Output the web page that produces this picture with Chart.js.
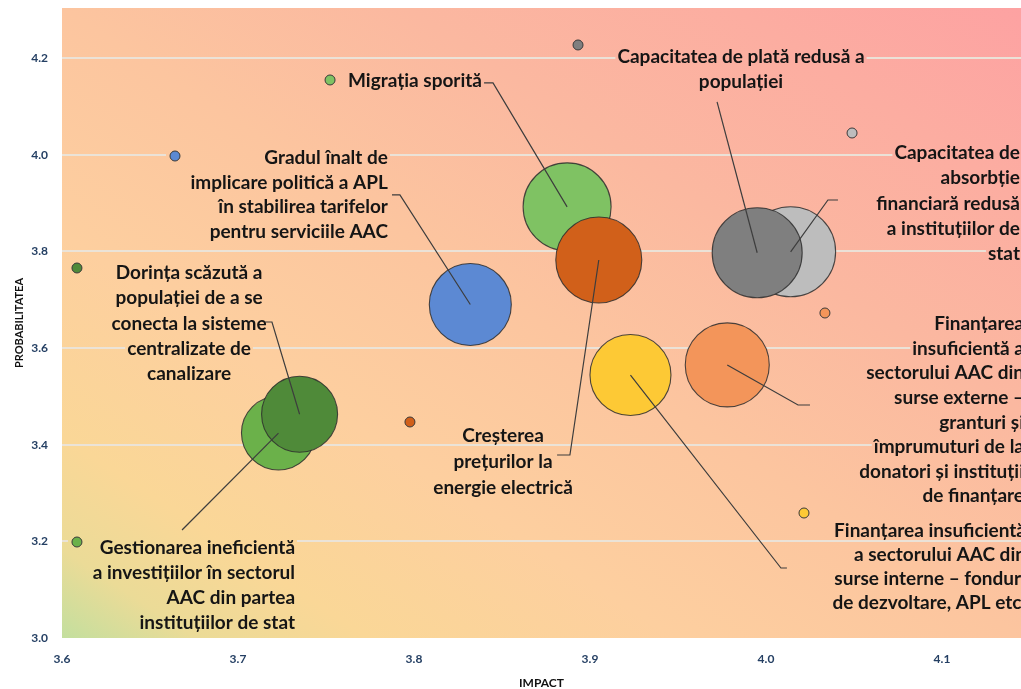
<!DOCTYPE html>
<html><head><meta charset="utf-8">
<script src="https://cdn.jsdelivr.net/npm/chart.js@4.4.0/dist/chart.umd.min.js"></script>
<style>html,body{margin:0;padding:0;background:#fff;}#wrap{width:1021px;height:689px;position:relative;overflow:hidden}</style>
</head><body><div id="wrap"><canvas id="c" width="1021" height="689"></canvas></div>
<script>
// ---- data ----
const categories = [
  "Gestionarea ineficientă a investițiilor în sectorul AAC din partea instituțiilor de stat",
  "Dorința scăzută a populației de a se conecta la sisteme centralizate de canalizare",
  "Capacitatea de absorbție financiară redusă a instituțiilor de stat",
  "Capacitatea de plată redusă a populației",
  "Migrația sporită",
  "Creșterea prețurilor la energie electrică",
  "Gradul înalt de implicare politică a APL în stabilirea tarifelor pentru serviciile AAC",
  "Finanțarea insuficientă a sectorului AAC din surse interne – fonduri de dezvoltare, APL etc.",
  "Finanțarea insuficientă a sectorului AAC din surse externe – granturi și împrumuturi de la donatori și instituții de finanțare"
];
const impact      = [3.723, 3.735, 4.014, 3.995, 3.887, 3.905, 3.832, 3.923, 3.978];
const probability = [3.424, 3.463, 3.799, 3.797, 3.892, 3.782, 3.690, 3.544, 3.565];
const bubbleSize  = [37, 38, 45, 45, 44, 43, 41, 40.5, 42];
const xTickValues = [3.6, 3.7, 3.8, 3.9, 4.0, 4.1];
const yTickValues = [3.0, 3.2, 3.4, 3.6, 3.8, 4.0, 4.2];

// ---- styles ----
const fillColors = ['#6BB14A', '#4F8A39', '#BDBDBD', '#7F7F7F', '#7FC263', '#D1601A', '#5C89D3', '#FDC935', '#F3955A'];
const LABEL_FONT = 'bold 19px Lato, "Open Sans", sans-serif';

// ---- label annotations (anchors in axis units) ----
const labelLayout = [
  {i:0, lines:["Gestionarea ineficientă","a investițiilor în sectorul","AAC din partea","instituțiilor de stat"], align:'right', x:3.7324, y:3.1883, lh:25, dot:[3.6085,3.1986], hook:[[3.6682,3.2234]]},
  {i:1, lines:["Dorința scăzută a","populației de a se","conecta la sisteme","centralizate de","canalizare"], align:'center', x:3.6722, y:3.7572, lh:25.2, dot:[3.6085,3.7655], hook:[[3.7153,3.6538],[3.7193,3.6538]]},
  {i:2, lines:["Capacitatea de","absorbție","financiară redusă","a instituțiilor de","stat"], align:'right', x:4.1443, y:4.0055, lh:25.2, dot:[4.0489,4.0448], hook:[[4.0409,3.9062],[4.0352,3.9062]]},
  {i:3, lines:["Capacitatea de plată redusă a","populației"], align:'center', x:3.9858, y:4.204, lh:25, dot:[3.8932,4.2269], hook:[[3.9722,4.109]]},
  {i:4, lines:["Migrația sporită"], align:'left', x:3.7625, y:4.1545, lh:25, dot:[3.7523,4.1545], hook:[[3.8398,4.1483],[3.8449,4.1483]]},
  {i:5, lines:["Creșterea","prețurilor la","energie electrică"], align:'center', x:3.8506, y:3.42, lh:26, dot:[3.7977,3.4469], hook:[[3.8813,3.3786],[3.8886,3.3786]]},
  {i:6, lines:["Gradul înalt de","implicare politică a APL","în stabilirea tarifelor","pentru serviciile AAC"], align:'right', x:3.7852, y:3.9952, lh:24.7, dot:[3.6642,3.9972], hook:[[3.7875,3.9166],[3.7920,3.9166]]},
  {i:7, lines:["Finanțarea insuficientă","a sectorului AAC din","surse interne – fonduri","de dezvoltare, APL etc."], align:'right', x:4.1477, y:3.2234, lh:24, dot:[4.0216,3.2586], hook:[[4.0119,3.1448],[4.0085,3.1448]]},
  {i:8, lines:["Finanțarea","insuficientă a","sectorului AAC din","surse externe –","granturi și","împrumuturi de la","donatori și instituții","de finanțare"], align:'right', x:4.1466, y:3.6517, lh:24.6, dot:[4.0335,3.6724], hook:[[4.025,3.4821],[4.0182,3.4821]]}
];

const bgPlugin = {
  id:'bg',
  beforeDraw(chart){
    const {ctx, chartArea:a} = chart;
    const W = a.right - a.left, H = a.bottom - a.top;
    const s = 2*H*W/(H*H + W*W);
    const g = ctx.createLinearGradient(a.left, a.bottom, a.left + H*s, a.bottom - W*s);
    g.addColorStop(0.00, '#C3DF9E');
    g.addColorStop(0.07, '#EBDB97');
    g.addColorStop(0.16, '#FAD797');
    g.addColorStop(0.32, '#FDCF9F');
    g.addColorStop(0.50, '#FCC59F');
    g.addColorStop(0.68, '#FBB8A0');
    g.addColorStop(0.85, '#FCADA1');
    g.addColorStop(1.00, '#FDA2A2');
    chart.$bg = g;
    ctx.save();
    ctx.fillStyle = '#ffffff';
    ctx.fillRect(0,0,chart.width,chart.height);
    ctx.fillStyle = g;
    ctx.fillRect(a.left, a.top, W, H);
    ctx.restore();
  }
};

function linePos(chart, L, k, ctx){
  const {x, y} = chart.scales;
  const ax = x.getPixelForValue(L.x), ay = y.getPixelForValue(L.y);
  const w = ctx.measureText(L.lines[k]).width;
  const left = L.align==='right' ? ax - w : (L.align==='center' ? ax - w/2 : ax);
  return {left, right:left + w, cy: ay + k*L.lh, ax};
}

const annotPlugin = {
  id:'annot',
  beforeDatasetsDraw(chart){
    const {ctx, scales:{x,y}} = chart;
    ctx.save();
    ctx.font = LABEL_FONT;
    ctx.fillStyle = chart.$bg;
    labelLayout.forEach(L => {
      L.lines.forEach((t,k) => {
        const p = linePos(chart, L, k, ctx);
        let left = p.left;
        if (k === 0) {
          const dx = x.getPixelForValue(L.dot[0]), dy = y.getPixelForValue(L.dot[1]);
          if (Math.abs(dy - p.cy) < 8) left = Math.min(left, dx - 7);
        }
        ctx.fillRect(left - 2, p.cy - 8.5, p.right - left + 4, 17);
      });
    });
    ctx.restore();
  },
  afterDatasetsDraw(chart){
    const {ctx, scales:{x,y}} = chart;
    const meta = chart.getDatasetMeta(0);
    ctx.save();
    ctx.strokeStyle = '#3d3d3d';
    ctx.lineWidth = 1.2;
    labelLayout.forEach(L => {
      const el = meta.data[L.i];
      ctx.beginPath();
      L.hook.forEach((h,k) => {
        const px = x.getPixelForValue(h[0]), py = y.getPixelForValue(h[1]);
        if (k===0) ctx.moveTo(px,py); else ctx.lineTo(px,py);
      });
      ctx.lineTo(el.x, el.y);
      ctx.stroke();
    });
    labelLayout.forEach(L => {
      const dx = x.getPixelForValue(L.dot[0]), dy = y.getPixelForValue(L.dot[1]);
      ctx.beginPath();
      ctx.arc(dx, dy, 5, 0, Math.PI*2);
      ctx.fillStyle = fillColors[L.i];
      ctx.fill();
      ctx.lineWidth = 1;
      ctx.strokeStyle = '#3a3a3a';
      ctx.stroke();
    });
    ctx.font = LABEL_FONT;
    ctx.fillStyle = '#151515';
    ctx.textBaseline = 'middle';
    labelLayout.forEach(L => {
      L.lines.forEach((t,k) => {
        const p = linePos(chart, L, k, ctx);
        ctx.textAlign = 'left';
        ctx.fillText(t, p.left, p.cy + 1);
      });
    });
    ctx.restore();
  }
};

const chart = new Chart(document.getElementById('c'), {
  type:'bubble',
  data:{
    datasets:[{
      label:'Riscuri',
      data: impact.map((v,i) => ({x:v, y:probability[i], r:bubbleSize[i], name:categories[i]})),
      backgroundColor: fillColors,
      borderColor:'rgba(45,45,45,0.85)',
      borderWidth:1.1,
      hoverRadius:0,
      clip:false
    }]
  },
  options:{
    responsive:false,
    animation:false,
    devicePixelRatio:1,
    events:[],
    layout:{autoPadding:false, padding:{top:8,left:0,right:0,bottom:0}},
    plugins:{legend:{display:false}, tooltip:{enabled:false}},
    scales:{
      x:{
        type:'linear', min:3.6, max:4.1449,
        afterBuildTicks(s){ s.ticks = xTickValues.map(v => ({value:v})); },
        afterFit(s){ s.height = 51; s.paddingLeft = 0; s.paddingRight = 0; },
        grid:{display:false, drawTicks:false},
        border:{display:false},
        ticks:{callback:v => v.toFixed(1), color:'#243F63', font:{family:'Lato, sans-serif', size:12, weight:'bold'}, padding:14, maxRotation:0},
        title:{display:true, text:'IMPACT', color:'#111', font:{family:'Lato, sans-serif', size:12, weight:'bold', lineHeight:1}, padding:{top:0,bottom:0}}
      },
      y:{
        type:'linear', min:3.0, max:4.3034,
        afterBuildTicks(s){ s.ticks = yTickValues.map(v => ({value:v})); },
        afterFit(s){ s.width = 62; s.paddingTop = 0; s.paddingBottom = 0; },
        grid:{drawTicks:false, lineWidth:2, color:c => (c.tick && c.tick.value === 3.0) ? 'rgba(0,0,0,0)' : 'rgba(234,228,218,0.95)'},
        border:{display:false},
        ticks:{callback:v => v.toFixed(1), color:'#243F63', font:{family:'Lato, sans-serif', size:12, weight:'bold'}, padding:14},
        title:{display:true, text:'PROBABILITATEA', color:'#111', font:{family:'Lato, sans-serif', size:11, weight:'bold', lineHeight:1}, padding:{top:14,bottom:0}}
      }
    }
  },
  plugins:[bgPlugin, annotPlugin]
});
</script>
</body></html>
